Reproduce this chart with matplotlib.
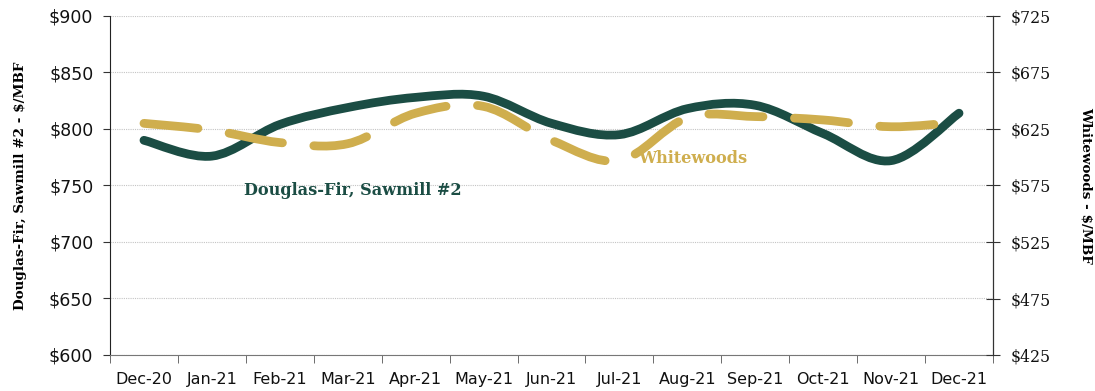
import numpy as np
import matplotlib
matplotlib.use("Agg")
from matplotlib import pyplot as plt
from matplotlib.path import Path
from matplotlib.patches import PathPatch
from matplotlib.ticker import FixedLocator

months = ["Dec-20", "Jan-21", "Feb-21", "Mar-21", "Apr-21", "May-21", "Jun-21",
          "Jul-21", "Aug-21", "Sep-21", "Oct-21", "Nov-21", "Dec-21"]
douglas_fir = [790, 776, 804, 819, 828, 829, 805, 795, 818, 821, 796, 772, 814]
whitewoods = [630, 624, 613, 612, 639, 645, 615, 597, 635, 636, 633, 627, 631]

green = "#1b4d44"
gold = "#cfae4e"


def smooth_path(xs, ys):
    # cubic bezier through every point (catmull-rom style handles)
    pts = np.column_stack([xs, ys]).astype(float)
    ext = np.vstack([pts[0], pts, pts[-1]])
    verts = [pts[0]]
    codes = [Path.MOVETO]
    for i in range(len(pts) - 1):
        p0, p1, p2, p3 = ext[i], ext[i + 1], ext[i + 2], ext[i + 3]
        verts += [p1 + (p2 - p0) / 6, p2 - (p3 - p1) / 6, p2]
        codes += [Path.CURVE4] * 3
    return Path(verts, codes)


fig = plt.figure(figsize=(10.95, 3.91), dpi=100)
ax = fig.add_axes([110 / 1095, 1 - 355 / 391, 883 / 1095, 339 / 391])
ax2 = ax.twinx()

x = np.arange(len(months))

ax.set_xlim(-0.5, len(months) - 0.5)
ax.set_ylim(600, 900)
ax2.set_ylim(425, 725)

ax.set_yticks(np.arange(600, 901, 50))
ax.set_yticklabels(["$%d" % v for v in range(600, 901, 50)], fontsize=12.5,
                   family="DejaVu Sans", color="#111111")
ax2.set_yticks(np.arange(425, 726, 50))
ax2.set_yticklabels(["$%d" % v for v in range(425, 726, 50)], fontsize=11.3,
                    family="DejaVu Serif", color="#111111")

ax.set_xticks(x)
ax.set_xticklabels(months, fontsize=11.5, family="DejaVu Sans", color="#111111")
ax.xaxis.set_minor_locator(FixedLocator(np.arange(-0.5, len(months), 1)))
ax.tick_params(axis="x", which="major", length=0, pad=12)
ax.tick_params(axis="x", which="minor", length=6, direction="out", color="#555555")
ax.tick_params(axis="y", length=5, direction="out", pad=7, color="#333333")
ax2.tick_params(axis="y", length=9.5, direction="inout", pad=8, color="#333333")

ax.grid(axis="y", linestyle=(0, (1, 1)), color="#c4c4c4", linewidth=0.8)
ax.set_axisbelow(True)

for a in (ax, ax2):
    a.spines["top"].set_visible(False)
ax.spines["bottom"].set_color("#777777")
ax.spines["left"].set_color("#222222")
ax2.spines["right"].set_color("#333333")
ax2.spines["bottom"].set_visible(False)
ax2.spines["left"].set_visible(False)

ax.add_patch(PathPatch(smooth_path(x, douglas_fir), facecolor="none",
                       edgecolor=green, linewidth=6.3, capstyle="round",
                       joinstyle="round", zorder=3))
ax2.add_patch(PathPatch(smooth_path(x, whitewoods), facecolor="none",
                        edgecolor=gold, linewidth=6.3, capstyle="round",
                        linestyle=(0, (6.2, 3.6)), zorder=3))

ax.text(3.08, 746, "Douglas-Fir, Sawmill #2", color=green, fontsize=11.6,
        fontweight="bold", family="DejaVu Serif", ha="center", va="center")
ax2.text(8.08, 599, "Whitewoods", color=gold, fontsize=11.6,
         fontweight="bold", family="DejaVu Serif", ha="center", va="center")

ax.set_ylabel("Douglas-Fir, Sawmill #2 - $/MBF", fontsize=9.7, fontweight="bold",
              family="DejaVu Serif", labelpad=16)
ax2.set_ylabel("Whitewoods - $/MBF", fontsize=9.7, fontweight="bold",
               family="DejaVu Serif", rotation=270, labelpad=30)

fig.savefig("out.png", dpi=100)
